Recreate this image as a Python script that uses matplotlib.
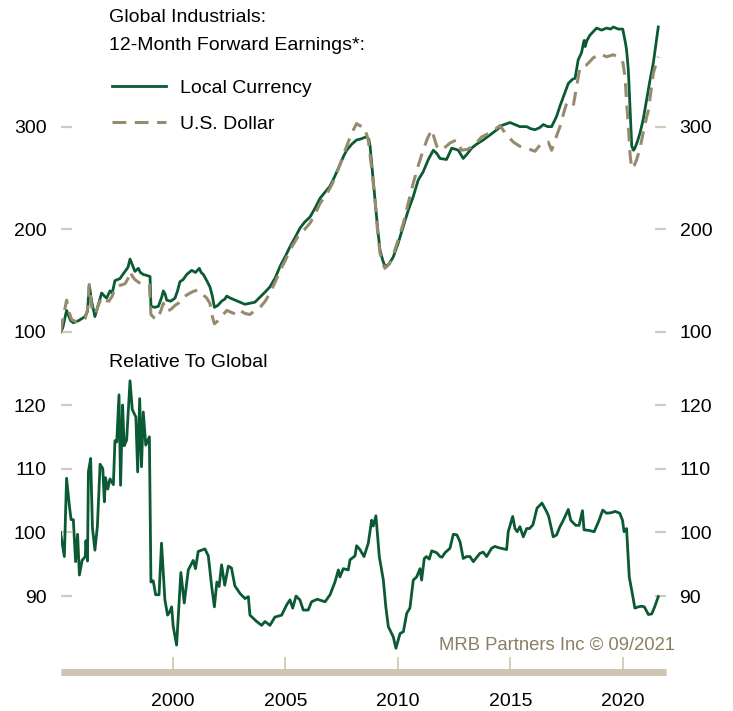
import matplotlib
matplotlib.use("Agg")
import matplotlib.pyplot as plt

plt.rcParams['font.family'] = ['Liberation Sans', 'DejaVu Sans']

GREEN = "#0a5a34"
TAN = "#978b6f"
TICK = "#d2cbb9"
BAR = "#cdc5b1"

# 12-month forward earnings, local currency (rebased 100)
lc_years = [1995.0, 1995.1, 1995.27, 1995.45, 1995.57, 1995.8, 1996.09, 1996.2, 1996.28, 1996.38,
            1996.53, 1996.7, 1996.83, 1996.95, 1997.05, 1997.2, 1997.3, 1997.42, 1997.64, 1997.87,
            1998.0, 1998.09, 1998.2, 1998.31, 1998.46, 1998.55, 1998.68, 1998.85, 1998.98, 1999.02,
            1999.2, 1999.35, 1999.5, 1999.57, 1999.65, 1999.72, 1999.9, 2000.09, 2000.2, 2000.31,
            2000.45, 2000.61, 2000.83, 2001.0, 2001.17, 2001.25, 2001.35, 2001.5, 2001.64, 2001.75,
            2001.84, 2002.0, 2002.16, 2002.3, 2002.39, 2002.55, 2002.76, 2002.98, 2003.2, 2003.42,
            2003.64, 2003.87, 2004.1, 2004.31, 2004.55, 2004.76, 2005.0, 2005.2, 2005.45, 2005.64,
            2005.85, 2006.09, 2006.3, 2006.53, 2006.75, 2006.98, 2007.2, 2007.42, 2007.6, 2007.72,
            2007.95, 2008.16, 2008.35, 2008.58, 2008.7, 2008.76, 2008.87, 2008.98, 2009.1, 2009.2,
            2009.32, 2009.42, 2009.6, 2009.79, 2010.0, 2010.24, 2010.45, 2010.68, 2010.9, 2011.12,
            2011.35, 2011.57, 2011.72, 2011.87, 2012.16, 2012.39, 2012.55, 2012.68, 2012.9, 2013.1,
            2013.27, 2013.5, 2013.79, 2014.16, 2014.4, 2014.6, 2014.98, 2015.2, 2015.42, 2015.72,
            2015.9, 2016.09, 2016.3, 2016.46, 2016.65, 2016.83, 2017.05, 2017.2, 2017.35, 2017.57,
            2017.75, 2017.87, 2018.01, 2018.16, 2018.25, 2018.28, 2018.32, 2018.4, 2018.53, 2018.7,
            2018.83, 2019.05, 2019.27, 2019.45, 2019.57, 2019.8, 2019.99, 2020.09, 2020.16, 2020.24,
            2020.32, 2020.39, 2020.47, 2020.53, 2020.65, 2020.76, 2020.9, 2021.05, 2021.2, 2021.35,
            2021.45, 2021.57]
lc_values = [100, 104, 121, 111, 109, 111, 115, 120, 146, 130,
             115, 128, 138, 135, 133, 140, 138, 150, 152, 159,
             163, 171, 165, 159, 162, 158, 156, 155, 154, 125,
             124, 125, 134, 140, 137, 131, 130, 133, 140, 149,
             151, 156, 160, 158, 162, 158, 156, 150, 144, 135,
             124, 126, 130, 132, 135, 133, 131, 129, 127, 128,
             129, 134, 139, 144, 153, 164, 174, 183, 193, 201,
             207, 212, 220, 230, 236, 242, 252, 263, 272, 277,
             283, 287, 288, 290, 288, 281, 255, 229, 200, 180,
             170, 164, 166, 173, 186, 203, 218, 232, 248, 256,
             268, 277, 274, 269, 268, 279, 278, 277, 269, 274,
             279, 283, 287, 293, 297, 301, 304, 302, 300, 300,
             298, 297, 299, 302, 300, 300, 310, 320, 329, 342,
             346, 347, 365, 372, 382, 384, 378, 384, 389, 393,
             396, 394, 396, 395, 397, 395, 395, 384, 375, 355,
             315, 281, 277, 279, 286, 294, 307, 326, 345, 362,
             378, 397]

# 12-month forward earnings, U.S. dollar (rebased 100)
usd_years = [1995.0, 1995.1, 1995.27, 1995.4, 1995.5, 1995.7, 1995.9, 1996.09, 1996.2, 1996.28,
             1996.38, 1996.53, 1996.7, 1996.83, 1996.95, 1997.15, 1997.3, 1997.42, 1997.6, 1997.87,
             1998.0, 1998.09, 1998.2, 1998.31, 1998.5, 1998.68, 1998.95, 1999.02, 1999.15, 1999.28,
             1999.45, 1999.57, 1999.72, 1999.9, 2000.1, 2000.24, 2000.4, 2000.61, 2000.85, 2001.1,
             2001.3, 2001.5, 2001.64, 2001.75, 2001.84, 2002.0, 2002.16, 2002.39, 2002.6, 2002.83,
             2002.98, 2003.2, 2003.42, 2003.64, 2003.87, 2004.1, 2004.31, 2004.55, 2004.76, 2005.0,
             2005.2, 2005.45, 2005.64, 2005.85, 2006.09, 2006.3, 2006.53, 2006.75, 2006.98, 2007.2,
             2007.42, 2007.6, 2007.72, 2007.95, 2008.16, 2008.3, 2008.5, 2008.68, 2008.8, 2008.98,
             2009.1, 2009.2, 2009.32, 2009.42, 2009.6, 2009.79, 2010.0, 2010.24, 2010.45, 2010.68,
             2010.9, 2011.12, 2011.3, 2011.5, 2011.72, 2011.94, 2012.15, 2012.31, 2012.6, 2012.83,
             2013.1, 2013.35, 2013.72, 2014.09, 2014.3, 2014.53, 2014.76, 2014.95, 2015.13, 2015.4,
             2015.72, 2016.09, 2016.31, 2016.5, 2016.68, 2016.83, 2017.0, 2017.2, 2017.35, 2017.5,
             2017.65, 2017.79, 2017.95, 2018.09, 2018.38, 2018.68, 2018.98, 2019.27, 2019.57, 2019.86,
             2020.0, 2020.09, 2020.16, 2020.24, 2020.32, 2020.39, 2020.5, 2020.61, 2020.76, 2020.9,
             2021.05, 2021.13, 2021.2, 2021.35, 2021.57]
usd_values = [100, 112, 131, 118, 112, 110, 112, 113, 122, 146,
              125, 117, 127, 134, 131, 130, 135, 143, 145, 147,
              152, 159, 154, 151, 148, 146, 146, 117, 114, 112,
              120, 128, 120, 122, 126, 128, 133, 136, 139, 141,
              137, 133, 128, 115, 108, 111, 115, 121, 119, 117,
              121, 118, 117, 121, 124, 130, 138, 149, 160, 170,
              180, 189, 196, 200, 206, 214, 225, 232, 240, 250,
              263, 274, 281, 294, 303, 301, 300, 287, 265, 229,
              196, 177, 167, 162, 166, 175, 189, 206, 225, 245,
              262, 277, 288, 297, 281, 277, 281, 284, 287, 277,
              278, 281, 290, 294, 297, 301, 294, 289, 285, 281,
              279, 276, 282, 283, 285, 277, 288, 300, 312, 323,
              321, 320, 340, 358, 360, 367, 371, 368, 370, 367,
              362, 349, 325, 300, 272, 259, 262, 268, 279, 294,
              309, 316, 327, 352, 368]

# relative to global
rel_years = [1995.0, 1995.17, 1995.27, 1995.4, 1995.47, 1995.57, 1995.67, 1995.76, 1995.84, 1995.96,
             1996.1, 1996.13, 1996.2, 1996.24, 1996.34, 1996.42, 1996.53, 1996.64, 1996.76, 1996.88,
             1996.95, 1997.0, 1997.1, 1997.2, 1997.35, 1997.42, 1997.5, 1997.6, 1997.67, 1997.76,
             1997.83, 1997.94, 1998.09, 1998.19, 1998.35, 1998.43, 1998.52, 1998.6, 1998.68, 1998.79,
             1998.95, 1999.02, 1999.12, 1999.23, 1999.38, 1999.49, 1999.64, 1999.76, 1999.85, 1999.94,
             2000.01, 2000.16, 2000.35, 2000.5, 2000.68, 2000.9, 2001.0, 2001.12, 2001.42, 2001.57,
             2001.72, 2001.84, 2001.95, 2002.05, 2002.16, 2002.3, 2002.46, 2002.6, 2002.75, 2002.98,
             2003.2, 2003.35, 2003.42, 2003.72, 2003.94, 2004.09, 2004.31, 2004.53, 2004.83, 2005.05,
             2005.2, 2005.32, 2005.47, 2005.64, 2005.79, 2006.01, 2006.16, 2006.41, 2006.76, 2006.98,
             2007.2, 2007.35, 2007.42, 2007.57, 2007.79, 2007.87, 2008.09, 2008.16, 2008.31, 2008.49,
             2008.68, 2008.83, 2008.9, 2009.02, 2009.17, 2009.35, 2009.46, 2009.57, 2009.79, 2009.91,
             2010.09, 2010.24, 2010.39, 2010.53, 2010.68, 2010.83, 2010.98, 2011.05, 2011.17, 2011.27,
             2011.39, 2011.5, 2011.72, 2011.87, 2011.96, 2012.09, 2012.31, 2012.46, 2012.62, 2012.76,
             2012.9, 2013.05, 2013.2, 2013.35, 2013.64, 2013.79, 2013.94, 2014.16, 2014.31, 2014.46,
             2014.83, 2014.9, 2015.1, 2015.2, 2015.3, 2015.42, 2015.57, 2015.72, 2015.85, 2016.0,
             2016.18, 2016.4, 2016.6, 2016.7, 2016.9, 2017.05, 2017.2, 2017.35, 2017.57, 2017.68,
             2017.9, 2018.05, 2018.2, 2018.27, 2018.5, 2018.72, 2018.94, 2019.1, 2019.27, 2019.5,
             2019.65, 2019.86, 2019.98, 2020.05, 2020.16, 2020.28, 2020.39, 2020.53, 2020.68, 2020.83,
             2020.95, 2021.13, 2021.28, 2021.42, 2021.57]
rel_values = [100, 96.2, 108.5, 104, 102, 102, 95.4, 99.7, 93.3, 95.6,
              96.2, 98.7, 95.5, 109.5, 111.6, 100.7, 97.2, 101, 110.7, 110,
              104.8, 108.6, 106.8, 108.4, 107.5, 114.4, 114.2, 121.6, 107.4, 120,
              113.6, 114.5, 123.8, 119.3, 118.1, 109.5, 121, 110.3, 118.9, 113.7,
              115, 92.2, 92.4, 90.2, 90.2, 98.3, 89.4, 87, 87.5, 88.3,
              85.2, 82.3, 93.7, 88.9, 94.1, 95.6, 94.3, 97, 97.4, 96.3,
              91.5, 88.3, 92.2, 91.5, 94.9, 91.7, 94.7, 94.4, 91.6, 90.4,
              89.6, 89.9, 87, 86, 85.4, 86, 85.4, 86.7, 87, 88.6,
              89.4, 88.1, 90, 89.4, 87.8, 87.8, 89.1, 89.5, 89.1, 90.2,
              92.2, 94.1, 93, 94.3, 94.1, 95.7, 96.3, 97.9, 97.3, 96.2,
              98.3, 101.9, 101, 102.6, 96.2, 92.5, 88.3, 85.2, 83.6, 81.8,
              84.1, 84.4, 87.3, 88.1, 92.5, 93, 94.3, 92.5, 95.9, 96.2,
              95.8, 97.1, 96.8, 96.2, 96.1, 96.8, 97.5, 99.7, 99.6, 98.5,
              95.9, 96.2, 96.2, 95.4, 96.7, 96.9, 96.2, 97.5, 97.8, 97.6,
              97.3, 100.1, 102.5, 100.6, 100.1, 100.9, 99.3, 100.6, 100.6, 101.2,
              103.8, 104.6, 103.3, 102.5, 99.3, 99.6, 100.9, 101.9, 103.6, 101.9,
              101.1, 101.1, 103.4, 100.4, 100.3, 100.1, 101.9, 103.5, 103, 103.1,
              103.3, 103, 101.9, 100.1, 100.6, 93, 90.9, 88.1, 88.3, 88.4,
              88.3, 87.1, 87.2, 88.4, 89.9]

top_ticks = [100, 200, 300]
bottom_ticks = [90, 100, 110, 120]
year_ticks = [2000, 2005, 2010, 2015, 2020]

W, H = 733, 711
fig = plt.figure(figsize=(W / 100, H / 100), dpi=100)

left = 60.5 / W
width = (665.7 - 60.5) / W
ax1 = fig.add_axes([left, 1 - 340 / H, width, (340 - 22) / H])
ax2 = fig.add_axes([left, 1 - 655 / H, width, (655 - 370) / H])

FS = 14

def style_axis(ax, ticks):
    for s in ax.spines.values():
        s.set_visible(False)
    ax.set_yticks(ticks)
    ax.tick_params(axis='y', which='both', direction='in', length=8, width=1.6,
                   color=TICK, labelsize=FS, pad=10, left=True, right=True,
                   labelleft=True, labelright=True)
    ax.set_xlim(1995.0, 2021.9)

style_axis(ax1, top_ticks)
ax1.set_ylim(92.2, 401.9)
ax1.tick_params(axis='x', bottom=False, labelbottom=False)

ax1.plot(lc_years, lc_values, color=GREEN, lw=2.0, label="Local Currency", zorder=2)
ax1.plot(usd_years, usd_values, color=TAN, lw=2.2, ls=(0, (4.5, 2.8)),
         label="U.S. Dollar", zorder=3)

ax1.text(0.08, 1.04, "Global Industrials:\n12-Month Forward Earnings*:",
         transform=ax1.transAxes, fontsize=FS, va='top', ha='left', linespacing=1.85)
ax1.legend(loc='upper left', bbox_to_anchor=(0.085, 0.82), frameon=False, fontsize=FS,
           handlelength=2.8, handletextpad=0.7, labelspacing=0.95, borderaxespad=0,
           borderpad=0)

style_axis(ax2, bottom_ticks)
ax2.set_ylim(80.74, 125.5)
ax2.plot(rel_years, rel_values, color=GREEN, lw=2.0)
ax2.text(0.08, 1.025, "Relative To Global", transform=ax2.transAxes, fontsize=FS,
         va='center', ha='left')

ax2.spines['bottom'].set_visible(True)
ax2.spines['bottom'].set_position(('outward', 12.3))
ax2.spines['bottom'].set_linewidth(5)
ax2.spines['bottom'].set_color(BAR)
ax2.spines['bottom'].set_capstyle('butt')
ax2.set_xticks(year_ticks)
ax2.tick_params(axis='x', direction='in', length=10.5, width=1.2, color=BAR,
                labelsize=FS, pad=15)

ax2.text(1.015, 0.035, "MRB Partners Inc \u00a9 09/2021", transform=ax2.transAxes,
         fontsize=13.3, color="#8a7f62", ha='right', va='center')

fig.savefig("out.png", dpi=100)
